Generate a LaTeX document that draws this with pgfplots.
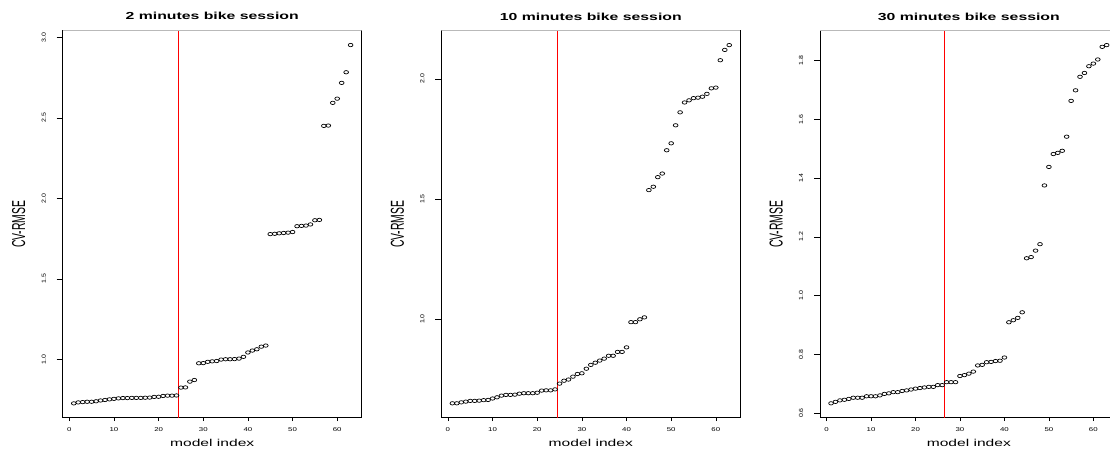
\documentclass[border=0pt]{standalone}
\usepackage{fontspec}
\setmainfont{Liberation Sans}
\usepackage{graphicx}
\usepackage{pgfplots}
\pgfplotsset{compat=1.18}

% CV-RMSE of the 63 models, sorted, one table per session length
\pgfplotstableread{
idx cv
1 0.727
2 0.733
3 0.735
4 0.737
5 0.737
6 0.740
7 0.745
8 0.748
9 0.752
10 0.755
11 0.758
12 0.760
13 0.760
14 0.761
15 0.761
16 0.761
17 0.762
18 0.763
19 0.767
20 0.768
21 0.773
22 0.775
23 0.775
24 0.776
25 0.825
26 0.826
27 0.862
28 0.872
29 0.976
30 0.977
31 0.985
32 0.988
33 0.990
34 0.999
35 1.001
36 1.001
37 1.002
38 1.005
39 1.016
40 1.043
41 1.055
42 1.063
43 1.079
44 1.086
45 1.778
46 1.780
47 1.783
48 1.785
49 1.787
50 1.791
51 1.827
52 1.829
53 1.831
54 1.838
55 1.864
56 1.866
57 2.450
58 2.452
59 2.593
60 2.619
61 2.717
62 2.783
63 2.952
}\twomin

\pgfplotstableread{
idx cv
1 0.649
2 0.649
3 0.653
4 0.656
5 0.659
6 0.659
7 0.660
8 0.662
9 0.663
10 0.669
11 0.674
12 0.681
13 0.684
14 0.684
15 0.685
16 0.689
17 0.691
18 0.691
19 0.691
20 0.693
21 0.702
22 0.703
23 0.703
24 0.707
25 0.731
26 0.743
27 0.748
28 0.760
29 0.771
30 0.774
31 0.793
32 0.809
33 0.818
34 0.827
35 0.835
36 0.847
37 0.847
38 0.863
39 0.863
40 0.882
41 0.987
42 0.987
43 0.999
44 1.007
45 1.537
46 1.551
47 1.591
48 1.606
49 1.703
50 1.732
51 1.807
52 1.861
53 1.902
54 1.911
55 1.920
56 1.922
57 1.926
58 1.938
59 1.961
60 1.964
61 2.078
62 2.121
63 2.141
}\tenmin

\pgfplotstableread{
idx cv
1 0.633
2 0.638
3 0.643
4 0.645
5 0.648
6 0.652
7 0.652
8 0.652
9 0.657
10 0.657
11 0.657
12 0.660
13 0.665
14 0.667
15 0.671
16 0.671
17 0.675
18 0.677
19 0.680
20 0.683
21 0.685
22 0.687
23 0.689
24 0.689
25 0.695
26 0.695
27 0.705
28 0.705
29 0.705
30 0.726
31 0.729
32 0.734
33 0.741
34 0.762
35 0.764
36 0.773
37 0.774
38 0.777
39 0.778
40 0.789
41 0.909
42 0.916
43 0.924
44 0.943
45 1.127
46 1.131
47 1.153
48 1.175
49 1.375
50 1.438
51 1.482
52 1.486
53 1.493
54 1.541
55 1.663
56 1.699
57 1.745
58 1.758
59 1.781
60 1.790
61 1.804
62 1.847
63 1.853
}\thirtymin

\pgfplotsset{
  rpanel/.style={
    scale only axis,
    width=299pt, height=387pt,
    anchor=south west,
    xmin=-1.48, xmax=65.48,
    xtick={0,10,...,60},
    tick align=outside,
    tick pos=left,
    axis line style={black, line width=0.8pt},
    xtick style={black, line width=0.6pt, /pgfplots/major tick length=3.3pt},
    ytick style={black, line width=0.6pt, /pgfplots/major tick length=6pt},
    xticklabel={\scalebox{1.4}[1]{\pgfmathprintnumber[assume math mode=true]{\tick}}},
    xticklabel style={font=\fontsize{5.6}{6}\selectfont, anchor=base, yshift=-9.7pt},
    yticklabel={\scalebox{1}[0.85]{\pgfmathprintnumber[fixed,fixed zerofill,precision=1,assume math mode=true]{\tick}}},
    yticklabel style={font=\fontsize{7}{8}\selectfont, rotate=90, anchor=south},
    yticklabel shift=9pt,
    title style={at={(axis description cs:0.5,1)}, anchor=base, yshift=4.7pt, font=\fontsize{10.2}{12}\selectfont\bfseries},
    xlabel={\scalebox{1.56}[1]{model index}},
    xlabel style={at={(axis description cs:0.5,0)}, anchor=base, yshift=-29pt, font=\fontsize{10}{12}\selectfont},
    ylabel={\scalebox{1}[1.8]{CV-RMSE}},
    ylabel style={at={(axis description cs:-0.147,0.5)}, anchor=center, font=\fontsize{10.4}{12}\selectfont},
  },
  rpts/.style={only marks, mark=o, mark size=1.7pt,
    mark options={xscale=1.4, line width=0.7pt, black}},
  cut/.style={red, line width=1.2pt},
}

\begin{document}
\begin{tikzpicture}
% --- 2 minutes ---
\begin{axis}[rpanel, at={(62.7pt,33.3pt)},
    ymin=0.638, ymax=3.041, ytick={1.0,1.5,2.0,2.5,3.0},
    title={\scalebox{1.55}[1]{2 minutes bike session}}]
\addplot[rpts] table[x=idx, y=cv] {\twomin};
\addplot[cut] coordinates {(24.5,0.638) (24.5,3.041)};
\draw[gray!55, line width=1pt] (rel axis cs:0,1) -- (rel axis cs:1,1);
\end{axis}

% --- 10 minutes ---
\begin{axis}[rpanel, at={(441.3pt,33.3pt)},
    ymin=0.589, ymax=2.201, ytick={1.0,1.5,2.0},
    title={\scalebox{1.55}[1]{10 minutes bike session}}]
\addplot[rpts] table[x=idx, y=cv] {\tenmin};
\addplot[cut] coordinates {(24.5,0.589) (24.5,2.201)};
\draw[gray!55, line width=1pt] (rel axis cs:0,1) -- (rel axis cs:1,1);
\end{axis}

% --- 30 minutes ---
\begin{axis}[rpanel, at={(820pt,33.3pt)}, width=297.7pt,
    ymin=0.584, ymax=1.902, ytick={0.6,0.8,...,1.8},
    title={\scalebox{1.55}[1]{30 minutes bike session}}]
\addplot[rpts] table[x=idx, y=cv] {\thirtymin};
\addplot[cut] coordinates {(26.5,0.584) (26.5,1.902)};
\draw[gray!55, line width=1pt] (rel axis cs:0,1) -- (rel axis cs:1,1);
\end{axis}

% page is cut like the reference: third panel's right edge falls outside
\pgfresetboundingbox
\path[use as bounding box] (0,0) rectangle (1110pt,451pt);
\end{tikzpicture}
\end{document}
